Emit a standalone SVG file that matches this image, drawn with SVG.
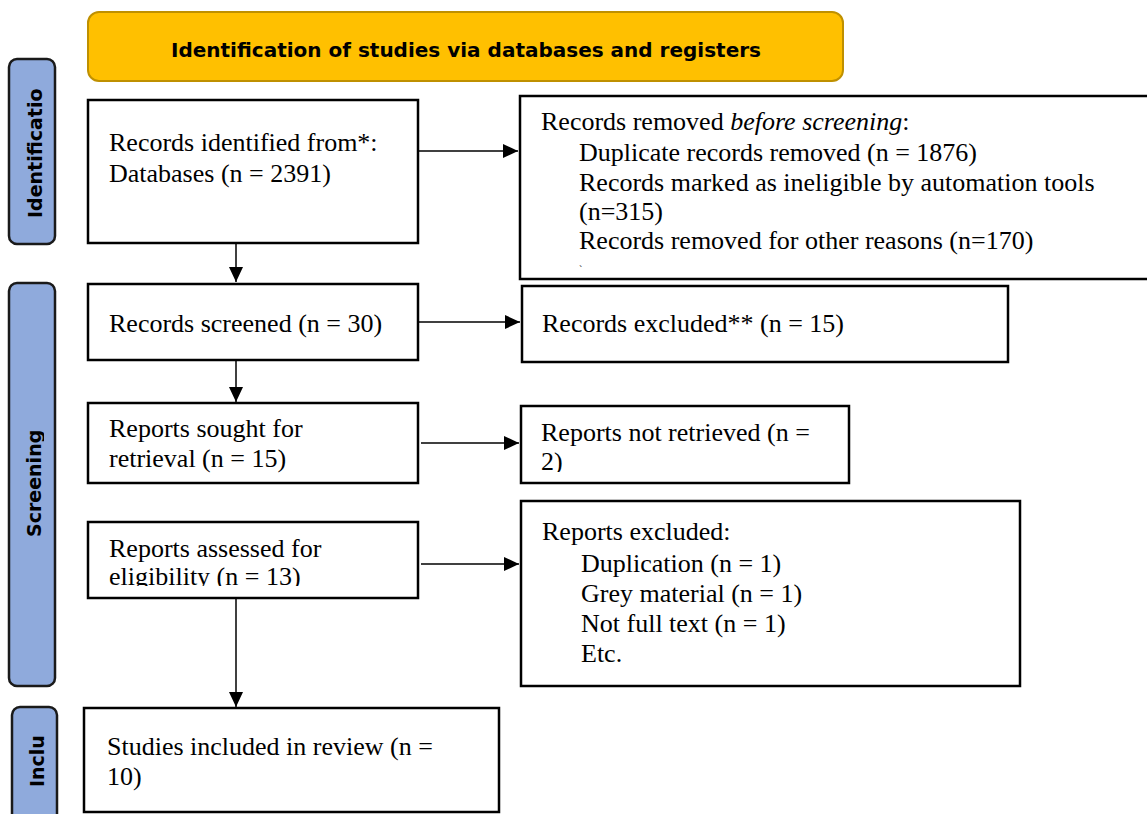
<svg xmlns="http://www.w3.org/2000/svg" width="1147" height="814" viewBox="0 0 1147 814">
<style>
.box{fill:#fff;stroke:#000;stroke-width:2.5}
.side{fill:#8FAADC;stroke:#1a1a1a;stroke-width:2.5}
.hdr{fill:#FFC000;stroke:#BF9000;stroke-width:2}
.t{font-family:"Liberation Serif","Times New Roman",serif;font-size:26px;fill:#000}
.b{font-family:"DejaVu Sans",Verdana,sans-serif;font-weight:bold;font-size:19px;fill:#000}
.c{stroke:#000;stroke-width:1.5;fill:none}
</style>
<defs>
<marker id="ah" markerUnits="userSpaceOnUse" markerWidth="16" markerHeight="16" viewBox="0 0 16 16" refX="15" refY="8" orient="auto">
<path d="M0,1 L15,8 L0,15 Z" fill="#000"/>
</marker>
<clipPath id="clipScr"><rect x="0" y="280" width="44" height="410"/></clipPath>
<clipPath id="clipElig"><rect x="87" y="520" width="332" height="66"/></clipPath>
<clipPath id="clipNR"><rect x="520" y="405" width="330" height="67"/></clipPath>
</defs>

<g id="header">
<rect class="hdr" x="88" y="12" width="755" height="69" rx="11"/>
<text class="b" x="466" y="57" text-anchor="middle" style="font-size:20px">Identification of studies via databases and registers</text>
</g>

<g id="side-identification">
<rect class="side" x="9" y="59" width="46" height="185" rx="8"/>
<text class="b" transform="translate(42,218) rotate(-90)">Identificatio</text>
</g>
<g id="side-screening">
<rect class="side" x="9" y="283" width="46" height="403" rx="8"/>
<g clip-path="url(#clipScr)"><text class="b" transform="translate(41,537) rotate(-90)">Screening</text></g>
</g>
<g id="side-included">
<rect class="side" x="12" y="707" width="45" height="120" rx="8"/>
<text class="b" transform="translate(44,787) rotate(-90)">Inclu</text>
</g>

<g id="n-identified">
<rect class="box" x="88" y="100" width="330" height="143"/>
<text class="t" x="109" y="151">Records identified from*:</text>
<text class="t" x="109" y="182">Databases (n = 2391)</text>
</g>

<g id="n-removed">
<rect class="box" x="520" y="96" width="640" height="183"/>
<text class="t" x="541" y="130">Records removed <tspan font-style="italic">before screening</tspan>:</text>
<text class="t" x="579" y="161">Duplicate records removed (n = 1876)</text>
<text class="t" x="579" y="191">Records marked as ineligible by automation tools</text>
<text class="t" x="579" y="220">(n=315)</text>
<text class="t" x="579" y="249">Records removed for other reasons (n=170)</text>
<text class="t" x="579" y="273" style="font-size:10px">`</text>
</g>

<g id="n-screened">
<rect class="box" x="88" y="284" width="330" height="76"/>
<text class="t" x="109" y="332">Records screened (n = 30)</text>
</g>

<g id="n-excluded">
<rect class="box" x="522" y="286" width="486" height="76"/>
<text class="t" x="542" y="332">Records excluded** (n = 15)</text>
</g>

<g id="n-sought">
<rect class="box" x="88" y="403" width="330" height="80"/>
<text class="t" x="109" y="437">Reports sought for</text>
<text class="t" x="109" y="467">retrieval (n = 15)</text>
</g>

<g id="n-notretrieved">
<rect class="box" x="521" y="406" width="328" height="77"/>
<g clip-path="url(#clipNR)">
<text class="t" x="541" y="441">Reports not retrieved (n =</text>
<text class="t" x="541" y="470">2)</text>
</g>
</g>

<g id="n-assessed">
<rect class="box" x="88" y="522" width="330" height="76"/>
<text class="t" x="109" y="557">Reports assessed for</text>
<g clip-path="url(#clipElig)"><text class="t" x="109" y="585">eligibility (n = 13)</text></g>
</g>

<g id="n-reportsexcluded">
<rect class="box" x="521" y="501" width="499" height="185"/>
<text class="t" x="542" y="540">Reports excluded:</text>
<text class="t" x="581" y="572">Duplication (n = 1)</text>
<text class="t" x="581" y="602">Grey material (n = 1)</text>
<text class="t" x="581" y="632">Not full text (n = 1)</text>
<text class="t" x="581" y="662">Etc.</text>
</g>

<g id="n-included">
<rect class="box" x="84" y="708" width="415" height="104"/>
<text class="t" x="107" y="755">Studies included in review (n =</text>
<text class="t" x="107" y="785">10)</text>
</g>

<g id="connectors">
<line class="c" x1="236" y1="243" x2="236" y2="282" marker-end="url(#ah)"/>
<line class="c" x1="236" y1="360" x2="236" y2="402" marker-end="url(#ah)"/>
<line class="c" x1="236" y1="598" x2="236" y2="707" marker-end="url(#ah)"/>
<line class="c" x1="418" y1="151" x2="518" y2="151" marker-end="url(#ah)"/>
<line class="c" x1="418" y1="322" x2="520" y2="322" marker-end="url(#ah)"/>
<line class="c" x1="421" y1="443" x2="519" y2="443" marker-end="url(#ah)"/>
<line class="c" x1="421" y1="564" x2="519" y2="564" marker-end="url(#ah)"/>
</g>
</svg>
